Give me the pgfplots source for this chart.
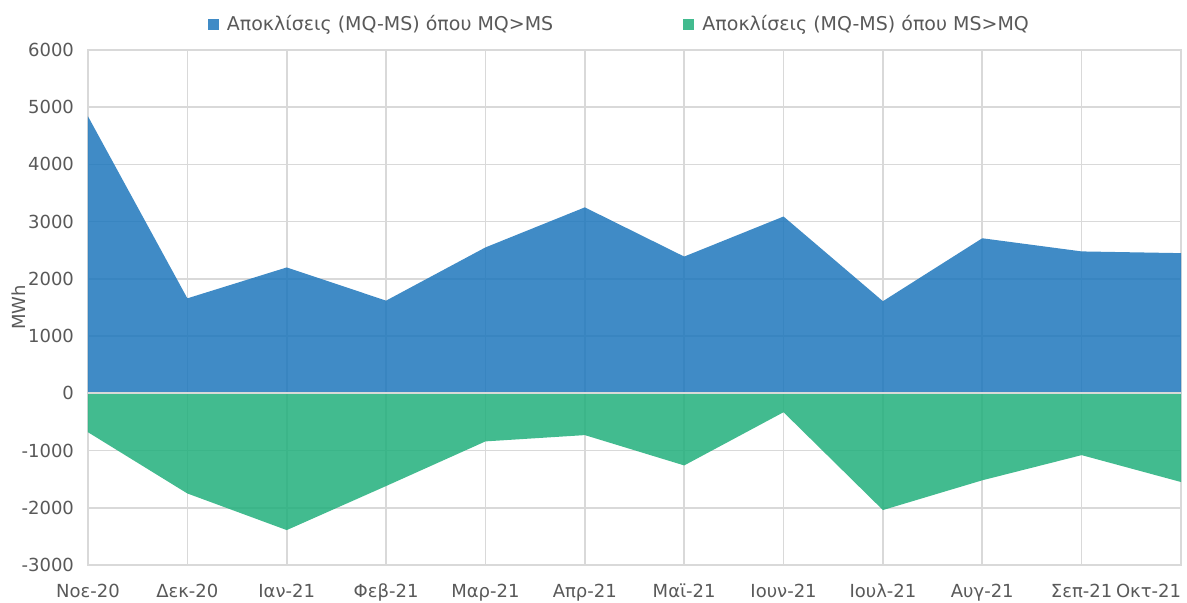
\documentclass[border=0pt]{standalone}
\usepackage{fontspec}
\setmainfont{DejaVu Sans}
\usepackage{pgfplots}
\pgfplotsset{compat=1.18}

\definecolor{posblue}{HTML}{1E77BC}
\definecolor{neggreen}{HTML}{21AF7B}
\definecolor{txtgray}{HTML}{595959}
\definecolor{gridgray}{HTML}{D9D9D9}

\begin{document}
\begin{tikzpicture}
\begin{axis}[
  at={(0,0)}, anchor=south west,
  scale only axis, width=546.5pt, height=257.5pt,
  xmin=0, xmax=11, ymin=-3000, ymax=6000,
  xtick={0,...,11},
  xticklabels={Νοε-20,Δεκ-20,Ιαν-21,Φεβ-21,Μαρ-21,Απρ-21,Μαϊ-21,Ιουν-21,Ιουλ-21,Αυγ-21,Σεπ-21,\makebox[0pt][r]{Οκτ-21}},
  ytick={-3000,-2000,...,6000},
  yticklabels={-3000,-2000,-1000,0,1000,2000,3000,4000,5000,6000},
  tick style={draw=none},
  ticklabel style={font=\fontsize{9}{10}\selectfont, text=txtgray},
  xticklabel style={yshift=-6pt},
  yticklabel style={xshift=-3.5pt},
  grid=major, grid style={gridgray, line width=0.8pt},
  axis line style={gridgray, line width=0.8pt},
  ylabel={MWh}, ylabel style={font=\fontsize{9}{10}\selectfont, text=txtgray, yshift=-9pt},
  legend columns=2,
  legend style={draw=none, fill=none, at={(0.487,1.0)}, anchor=south, yshift=4pt,
    font=\fontsize{9.5}{12}\selectfont, text=txtgray,
    /tikz/every odd column/.style={column sep=2pt},
    /tikz/every even column/.style={column sep=63pt}},
  legend image code/.code={\fill[#1] (0pt,-2.8pt) rectangle (5.6pt,2.8pt);},
]
\addplot[fill=posblue, fill opacity=0.85, draw=none] coordinates {
  (0,4840) (1,1660) (2,2200) (3,1620) (4,2550) (5,3250)
  (6,2390) (7,3090) (8,1610) (9,2710) (10,2480) (11,2450)
} \closedcycle;
\addlegendentry{Αποκλίσεις (MQ-MS) όπου MQ>MS}
\addplot[fill=neggreen, fill opacity=0.85, draw=none] coordinates {
  (0,-680) (1,-1750) (2,-2390) (3,-1620) (4,-840) (5,-730)
  (6,-1260) (7,-330) (8,-2040) (9,-1520) (10,-1080) (11,-1550)
} \closedcycle;
\addlegendentry{Αποκλίσεις (MQ-MS) όπου MS>MQ}
\draw[gridgray, line width=0.9pt] (axis cs:0,0) -- (axis cs:11,0);
\end{axis}
\pgfresetboundingbox
\path (-44pt,-19pt) rectangle (549.5pt,282.5pt);
\end{tikzpicture}
\end{document}
